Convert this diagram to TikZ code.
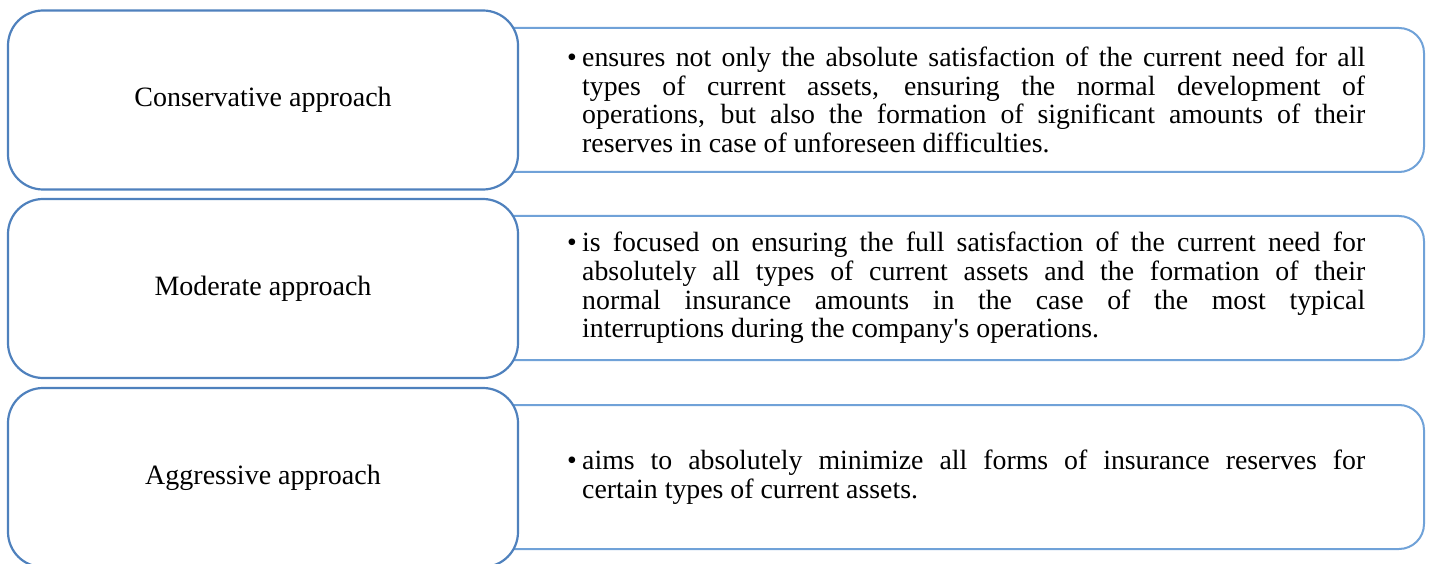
\documentclass[tikz,border=0pt]{standalone}
\usepackage{fontspec}
\setmainfont{Liberation Serif}
\definecolor{leftblue}{RGB}{79,129,189}
\definecolor{rightblue}{RGB}{112,162,216}
\tikzset{
  leftbox/.style={draw=leftblue, line width=2.2pt, fill=white, rounded corners=35pt,
    minimum width=510pt, minimum height=179pt, inner sep=0pt,
    font=\fontsize{28}{29}\selectfont},
  rightbox/.style={draw=rightblue, line width=2pt, fill=white, rounded corners=25pt,
    minimum width=954pt, minimum height=144pt, inner sep=0pt},
  desc/.style={anchor=west, inner sep=0pt,
    font=\fontsize{27.8}{28.8}\selectfont}
}
\newcommand{\bul}[1]{\makebox[15pt][l]{\textbullet}\parbox[t]{783pt}{#1}}
\begin{document}
\begin{tikzpicture}[x=1pt,y=1pt]
\useasboundingbox (0,0) rectangle (1429,-564);
\clip (0,0) rectangle (1429,-564);
% right boxes
\node[rightbox] (r1) at (947,-100) {};
\node[rightbox] (r2) at (947,-288) {};
\node[rightbox] (r3) at (947,-477) {};
% left boxes
\node[leftbox] (c1) at (263,-100) {Conservative approach};
\node[leftbox] (c2) at (263,-288.5) {Moderate approach};
\node[leftbox] (c3) at (263,-477.5) {Aggressive approach};
% descriptions
\node[desc] (t1) at (567,-100) {\bul{ensures not only the absolute satisfaction of the current need for all\linebreak types of current assets, ensuring the normal development of\linebreak operations, but also the formation of significant amounts of their\linebreak reserves in case of unforeseen difficulties.}};
\node[desc] (t2) at (567,-288) {\bul{is focused on ensuring the full satisfaction of the current need for\linebreak absolutely all types of current assets and the formation of their\linebreak normal insurance amounts in the case of the most typical\linebreak interruptions during the company\textquotesingle s operations.}};
\node[desc] (t3) at (567,-477) {\bul{aims to absolutely minimize all forms of insurance reserves for\linebreak certain types of current assets.}};
\end{tikzpicture}
\end{document}
